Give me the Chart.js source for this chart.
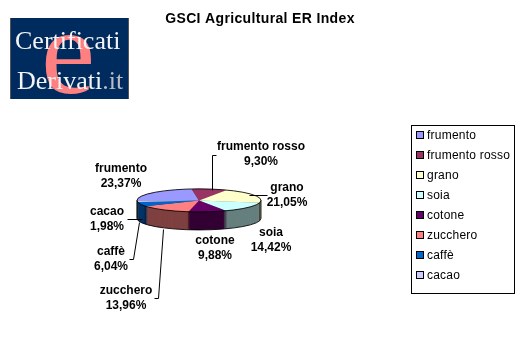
<!DOCTYPE html>
<html>
<head>
<meta charset="utf-8">
<style>
    html, body { margin: 0; padding: 0; background: #fff; }
    #wrap { position: relative; width: 520px; height: 357px; overflow: hidden; }
    canvas { display: block; }
    #legenda {
        position: absolute; left: 411px; top: 125px; width: 102px; height: 167px;
        border: 1px solid #000; font: 12px "Liberation Sans", Arial, sans-serif; color: #000;
        letter-spacing: 0.22px;
    }
    #legenda div { position: absolute; left: 15px; white-space: nowrap; line-height: 14px; }
    #legenda i { position: absolute; left: -11px; top: 3px; width: 6px; height: 6px; border: 1px solid #000; }
</style>
</head>
<body>
<div id="wrap">
    <canvas id="grafico" width="520" height="357"></canvas>
    <div id="legenda"></div>
</div>
<script src="https://cdn.jsdelivr.net/npm/chart.js@4/dist/chart.umd.min.js"></script>
<script>
const categorie = ['frumento', 'frumento rosso', 'grano', 'soia', 'cotone', 'zucchero', 'caffè', 'cacao'];
const valori = [23.37, 9.30, 21.05, 14.42, 9.88, 13.96, 6.04, 1.98];
const etichetteValori = ['23,37%', '9,30%', '21,05%', '14,42%', '9,88%', '13,96%', '6,04%', '1,98%'];
const colori = ['#9999FF', '#993366', '#FFFFCC', '#CCFFFF', '#660066', '#FF8080', '#0066CC', '#CCCCFF'];
const titolo = 'GSCI Agricultural ER Index';

// Centro delle etichette, stesso ordine delle categorie
const posEtichette = [[121, 169], [261, 147], [287, 188], [271, 233], [215, 241], [126, 291], [111, 252], [107, 212]];
// Linee guida delle etichette
const lineeGuida = [
    [[216, 155], [212, 155], [212, 190]],
    [[249, 195], [267, 195]],
    [[127, 219], [142, 219]],
    [[129, 259], [133, 259], [139, 222]],
    [[154, 298], [158, 298], [163, 229]]
];

const schiacciamento = 0.186;
const spessore = 18;

function scurisci(hex) {
    const n = parseInt(hex.slice(1), 16);
    const r = (n >> 16) >> 1, g = ((n >> 8) & 255) >> 1, b = (n & 255) >> 1;
    return `rgb(${r},${g},${b})`;
}

function prospettiva(ctx, area, dy) {
    const cx = (area.left + area.right) / 2;
    const cy = (area.top + area.bottom) / 2;
    ctx.translate(cx, cy + dy);
    ctx.scale(1, schiacciamento);
    ctx.translate(-cx, -cy);
}

// Traccia un arco ellittico con linea di spessore uniforme
function bordoEllisse(ctx, area, arco, dy, inizio, fine) {
    ctx.save();
    prospettiva(ctx, area, dy);
    ctx.beginPath();
    ctx.arc(arco.x, arco.y, arco.outerRadius, inizio, fine);
    ctx.restore();
    ctx.stroke();
}

const logo = {
    id: 'logo',
    beforeDraw(chart) {
        const ctx = chart.ctx;
        ctx.letterSpacing = '0.35px'; // per il titolo
        ctx.save();
        ctx.letterSpacing = '0px';
        ctx.fillStyle = '#555';
        ctx.fillRect(10, 18, 119, 81);
        ctx.fillStyle = '#002B5F';
        ctx.fillRect(11, 18, 117, 81);
        ctx.textAlign = 'left';
        ctx.textBaseline = 'alphabetic';
        ctx.fillStyle = '#FF8080';
        ctx.font = '122px "Liberation Serif", serif';
        ctx.fillText('e', 41, 93);
        ctx.fillStyle = '#f4f4f4';
        ctx.font = '26px "Liberation Serif", serif';
        ctx.fillText('Certificati', 15, 49);
        ctx.fillText('Derivati', 17, 89);
        const w = ctx.measureText('Derivati').width;
        ctx.fillStyle = '#b8bcc4';
        ctx.fillText('.it', 17 + w, 89);
        ctx.restore();
    }
};

const torta3d = {
    id: 'torta3d',
    afterLayout(chart) {
        // il titolo resta centrato sulla pagina, non sulla torta
        chart.titleBlock.left = 0;
        chart.titleBlock.right = chart.width;
    },
    beforeDatasetsDraw(chart) {
        const ctx = chart.ctx;
        const archi = chart.getDatasetMeta(0).data;
        for (let d = spessore; d >= 1; d--) {
            ctx.save();
            prospettiva(ctx, chart.chartArea, d);
            archi.forEach((arco, i) => {
                const parete = Object.create(arco, {
                    options: { value: { ...arco.options, backgroundColor: scurisci(colori[i]) } }
                });
                Chart.ArcElement.prototype.draw.call(parete, ctx);
            });
            ctx.restore();
        }
        ctx.save();
        prospettiva(ctx, chart.chartArea, 0);
    },
    afterDatasetsDraw(chart) {
        const ctx = chart.ctx;
        const area = chart.chartArea;
        ctx.restore();

        ctx.save();
        ctx.letterSpacing = '0px';
        const arco = chart.getDatasetMeta(0).data[0];
        const r = arco.outerRadius;
        const ry = r * schiacciamento;

        // spigoli verticali tra le pareti
        ctx.strokeStyle = 'rgba(0,0,0,0.45)';
        ctx.lineWidth = 1;
        chart.getDatasetMeta(0).data.forEach(a => {
            const s = Math.sin(a.startAngle);
            if (s <= 0) return;
            const x = a.x + r * Math.cos(a.startAngle);
            const y = a.y + ry * s;
            ctx.beginPath();
            ctx.moveTo(x, y);
            ctx.lineTo(x, y + spessore);
            ctx.stroke();
        });

        // contorno della torta
        ctx.strokeStyle = 'rgba(0,0,0,0.85)';
        bordoEllisse(ctx, area, arco, 0, 0, Math.PI * 2);
        bordoEllisse(ctx, area, arco, spessore, 0, Math.PI);
        [arco.x - r, arco.x + r].forEach(x => {
            ctx.beginPath();
            ctx.moveTo(x, arco.y);
            ctx.lineTo(x, arco.y + spessore);
            ctx.stroke();
        });

        // linee guida
        ctx.strokeStyle = '#000';
        lineeGuida.forEach(linea => {
            ctx.beginPath();
            linea.forEach(([x, y], i) => {
                if (i === 0) ctx.moveTo(x + 0.5, y + 0.5);
                else ctx.lineTo(x + 0.5, y + 0.5);
            });
            ctx.stroke();
        });

        ctx.fillStyle = '#000';
        ctx.font = 'bold 12px "Liberation Sans", Arial, sans-serif';
        ctx.textAlign = 'center';
        ctx.textBaseline = 'middle';
        categorie.forEach((nome, i) => {
            const [x, y] = posEtichette[i];
            ctx.fillText(nome, x, y);
            ctx.fillText(etichetteValori[i], x, y + 15);
        });
        ctx.restore();
    }
};

document.addEventListener('DOMContentLoaded', function() {
    const ctx = document.getElementById('grafico').getContext('2d');
    new Chart(ctx, {
        type: 'pie',
        data: {
            labels: categorie,
            datasets: [{
                data: valori,
                backgroundColor: colori,
                borderWidth: 0,
                clip: false
            }]
        },
        options: {
            responsive: false,
            animation: false,
            events: [],
            rotation: -91,
            layout: { padding: { left: 137, right: 259, top: 0, bottom: 93 } },
            plugins: {
                legend: { display: false },
                tooltip: { enabled: false },
                title: {
                    display: true,
                    text: titolo,
                    color: '#000',
                    font: { family: '"Liberation Sans", Arial, sans-serif', size: 14, weight: 'bold' },
                    padding: { top: 11, bottom: 109 }
                }
            }
        },
        plugins: [logo, torta3d]
    });

    // Legenda
    const legenda = document.getElementById('legenda');
    categorie.forEach((nome, i) => {
        const riga = document.createElement('div');
        riga.style.top = (2 + i * 20) + 'px';
        riga.textContent = nome;
        const box = document.createElement('i');
        box.style.background = colori[i];
        riga.appendChild(box);
        legenda.appendChild(riga);
    });
});
</script>
</body>
</html>
